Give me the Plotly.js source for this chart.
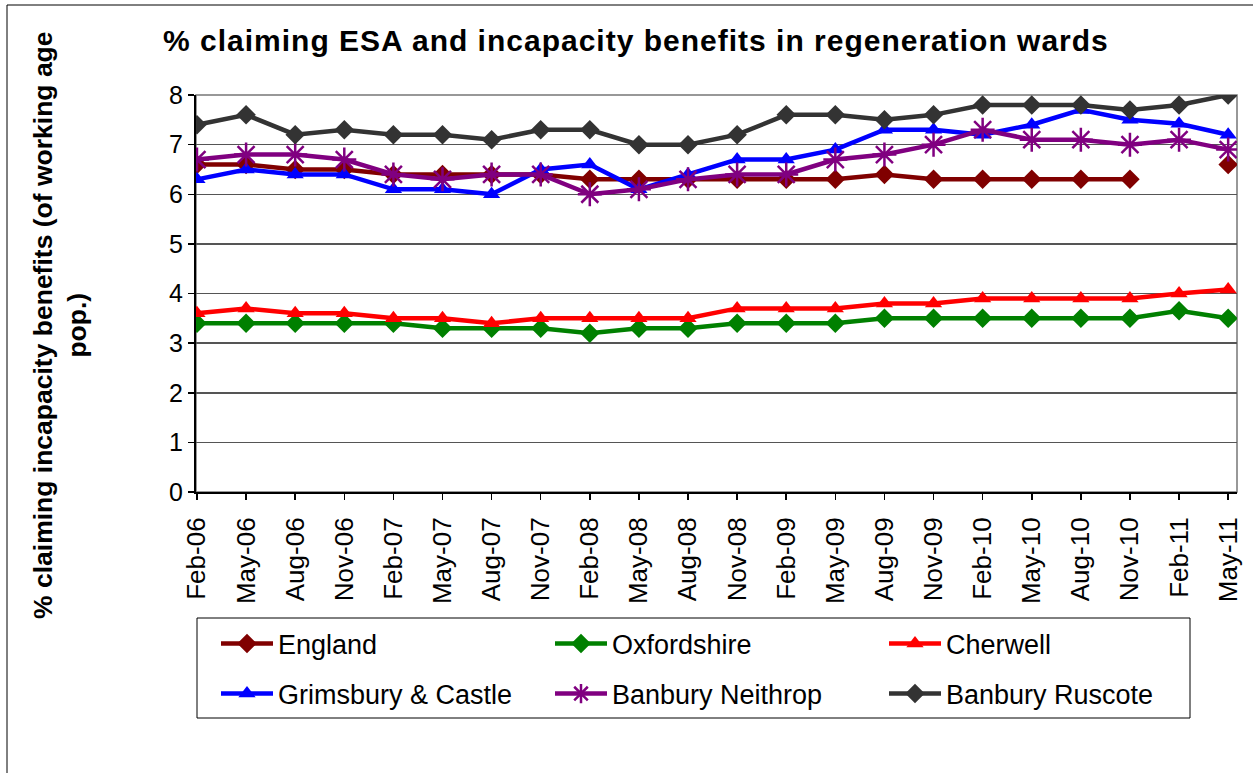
<!DOCTYPE html>
<html>
<head>
<meta charset="utf-8">
<script src="https://cdn.plot.ly/plotly-3.0.1.min.js"></script>
<style>
  html, body { margin: 0; padding: 0; background: #fff; }
  #chart { width: 1253px; height: 773px; }
  #chart .gtitle { letter-spacing: 1px; }
</style>
</head>
<body>
<div id="chart"></div>
<script>
const months = ["Feb-06","May-06","Aug-06","Nov-06","Feb-07","May-07","Aug-07","Nov-07",
  "Feb-08","May-08","Aug-08","Nov-08","Feb-09","May-09","Aug-09","Nov-09",
  "Feb-10","May-10","Aug-10","Nov-10","Feb-11","May-11"];

const england     = [6.6,6.6,6.5,6.5,6.4,6.4,6.4,6.4,6.3,6.3,6.3,6.3,6.3,6.3,6.4,6.3,6.3,6.3,6.3,6.3,null,6.6];
const oxfordshire = [3.4,3.4,3.4,3.4,3.4,3.3,3.3,3.3,3.2,3.3,3.3,3.4,3.4,3.4,3.5,3.5,3.5,3.5,3.5,3.5,3.65,3.5];
const cherwell    = [3.6,3.7,3.6,3.6,3.5,3.5,3.4,3.5,3.5,3.5,3.5,3.7,3.7,3.7,3.8,3.8,3.9,3.9,3.9,3.9,4.0,4.08];
const grimsbury   = [6.3,6.5,6.4,6.4,6.1,6.1,6.0,6.5,6.6,6.1,6.4,6.7,6.7,6.9,7.3,7.3,7.2,7.4,7.7,7.5,7.42,7.2];
const neithrop    = [6.7,6.8,6.8,6.7,6.4,6.3,6.4,6.4,6.0,6.1,6.3,6.4,6.4,6.7,6.8,7.0,7.3,7.1,7.1,7.0,7.1,6.9];
const ruscote     = [7.4,7.6,7.2,7.3,7.2,7.2,7.1,7.3,7.3,7.0,7.0,7.2,7.6,7.6,7.5,7.6,7.8,7.8,7.8,7.7,7.8,8.0];

const seriesNames = ["England","Oxfordshire","Cherwell","Grimsbury & Castle","Banbury Neithrop","Banbury Ruscote"];
const titleText = "% claiming ESA and incapacity benefits in regeneration wards";
const yTitleText = "% claiming incapacity benefits (of working age<br>pop.)";

const FONT = "Liberation Sans, Arial, sans-serif";

function mk(name, y, color, symbol, msize, legend) {
  const isStar = symbol === "asterisk-open";
  return {
    type: "scatter", mode: "lines+markers", name: name, x: months, y: y,
    connectgaps: false, legend: legend,
    line: { color: color, width: 4.5 },
    marker: { symbol: symbol, size: msize, color: color,
              line: { color: color, width: isStar ? 2.5 : 0 } }
  };
}

const data = [
  mk(seriesNames[0], england, "#800000", "diamond", 15, "legend"),
  mk(seriesNames[1], oxfordshire, "#008000", "diamond", 15, "legend"),
  mk(seriesNames[2], cherwell, "#ff0000", "triangle-up", 15, "legend"),
  mk(seriesNames[3], grimsbury, "#0000ff", "triangle-up", 15, "legend2"),
  mk(seriesNames[4], neithrop, "#800080", "asterisk-open", 20, "legend2"),
  mk(seriesNames[5], ruscote, "#333333", "diamond", 15, "legend2")
];

const legendCommon = {
  orientation: "h", xref: "container", yref: "container",
  xanchor: "left", yanchor: "middle",
  entrywidth: 267, entrywidthmode: "pixels",
  font: { family: FONT, size: 27, color: "#000" },
  bgcolor: "rgba(0,0,0,0)", borderwidth: 0, itemwidth: 52
};

const layout = {
  width: 1253, height: 773,
  margin: { l: 196, r: 16, t: 95, b: 281 },
  paper_bgcolor: "#fff", plot_bgcolor: "#fff",
  font: { family: FONT, color: "#000" },
  title: {
    text: "<b>" + titleText + "</b>",
    font: { family: FONT, size: 30, color: "#000" },
    xref: "container", yref: "container",
    x: 163 / 1253, xanchor: "left",
    y: 1 - 40 / 773, yanchor: "middle"
  },
  xaxis: {
    type: "category", range: [-0.02, 21.18],
    tickangle: -90, tickfont: { family: FONT, size: 26, color: "#000" },
    ticks: "outside", ticklen: 6, tickcolor: "#000", tickwidth: 1.5,
    ticklabelstandoff: 7,
    showline: true, linecolor: "#000", linewidth: 2,
    showgrid: false, zeroline: false, fixedrange: true
  },
  yaxis: {
    range: [0, 8], dtick: 1, tick0: 0,
    tickfont: { family: FONT, size: 25, color: "#000" },
    ticks: "outside", ticklen: 6, tickcolor: "#000", tickwidth: 1.5,
    showline: true, linecolor: "#000", linewidth: 2,
    showgrid: true, gridcolor: "#555", gridwidth: 1.5,
    zeroline: false, fixedrange: true
  },
  showlegend: true,
  legend: Object.assign({}, legendCommon, { x: 216 / 1253, y: 1 - 644 / 773 }),
  legend2: Object.assign({}, legendCommon, { x: 216 / 1253, y: 1 - 694 / 773 }),
  shapes: [
    { type: "rect", xref: "paper", yref: "paper", x0: 0, x1: 1, y0: 0, y1: 1,
      line: { color: "#777", width: 1.5 }, layer: "below" },
    { type: "rect", xref: "paper", yref: "paper",
      x0: (197 - 196) / 1041, x1: (1190 - 196) / 1041,
      y0: (492 - 618) / 397, y1: (492 - 718) / 397,
      line: { color: "#000", width: 1 } },
    { type: "rect", xref: "paper", yref: "paper",
      x0: (7 - 196) / 1041, x1: (1270 - 196) / 1041,
      y0: (492 - 5) / 397, y1: (492 - 800) / 397,
      line: { color: "#000", width: 1 } }
  ],
  annotations: [
    { text: "<b>" + yTitleText + "</b>", textangle: -90,
      xref: "paper", yref: "paper",
      x: (60 - 196) / 1041, y: (492 - 325) / 397,
      xanchor: "center", yanchor: "middle", showarrow: false,
      font: { family: FONT, size: 26.5, color: "#000" } }
  ]
};

Plotly.newPlot("chart", data, layout, { displayModeBar: false, staticPlot: true });
</script>
</body>
</html>
